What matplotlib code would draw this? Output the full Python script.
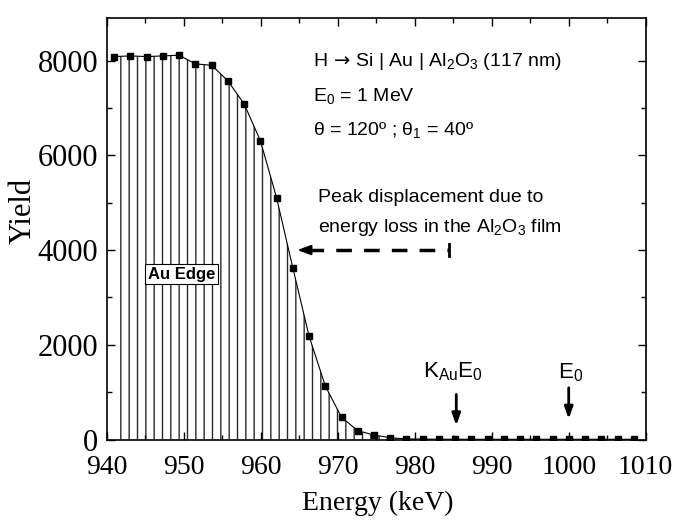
import numpy as np
import matplotlib
matplotlib.use("Agg")
import matplotlib.pyplot as plt

# ---- data ----
energy = [940.98, 943.09, 945.20, 947.30, 949.41, 951.52, 953.63, 955.74,
          957.85, 959.96, 962.06, 964.17, 966.28, 968.39, 970.50, 972.61,
          974.71, 976.82, 978.93, 981.04, 983.15, 985.26, 987.37, 989.48,
          991.58, 993.69, 995.80, 997.91, 1000.02, 1002.13, 1004.24,
          1006.34, 1008.45]
yield_ = [8085, 8099, 8085, 8099, 8114, 7930, 7902, 7571,
          7085, 6310, 5107, 3628, 2186, 1130, 469, 186,
          95, 38, 12, 10, 6, 6, 5, 5,
          5, 5, 5, 5, 5, 5, 5,
          5, 5]
xticks = [940, 950, 960, 970, 980, 990, 1000, 1010]
yticks = [0, 2000, 4000, 6000, 8000]
kau_e0 = 985.4
e0 = 1000.0

serif = ['Liberation Serif', 'DejaVu Serif']
sans = ['Liberation Sans', 'DejaVu Sans']
plt.rcParams['mathtext.default'] = 'regular'
plt.rcParams['mathtext.fontset'] = 'dejavusans'
plt.rcParams['hatch.linewidth'] = 1.0

fig = plt.figure(figsize=(6.76, 5.21), dpi=100)
ax = fig.add_axes([0.1578, 0.1564, 0.9552 - 0.1578, 0.9655 - 0.1564])

ax.fill_between(energy, yield_, 0, facecolor='none', edgecolor='#2a2a2a',
                hatch='||', linewidth=0)
ax.plot(energy, yield_, color='black', lw=0.8, marker='s', ms=5,
        mfc='black', mec='black')

ax.set_xlim(940, 1010)
ax.set_ylim(0, 8900)
ax.set_xticks(xticks)
ax.set_yticks(yticks)
ax.set_xticks(np.arange(945, 1010, 10), minor=True)
ax.set_yticks(np.arange(1000, 8900, 2000), minor=True)
ax.tick_params(which='both', direction='in', top=True, right=True, width=1.0)
ax.tick_params(which='major', length=6)
ax.tick_params(which='minor', length=3.6)
ax.tick_params(axis='x', pad=11)
ax.tick_params(axis='y', pad=6)
for lab in ax.get_xticklabels():
    lab.set_family(serif); lab.set_fontsize(20)
for lab in ax.get_yticklabels():
    lab.set_family(serif); lab.set_fontsize(22)
for sp in ax.spines.values():
    sp.set_linewidth(1.2)

fig.text(23 / 676, 1 - 211 / 521, 'Yield', rotation=90, ha='center', va='center',
         family=serif, fontsize=22)
fig.text(378 / 676, 1 - 503 / 521, 'Energy (keV)', ha='center', va='center',
         family=serif, fontsize=20)

# info text
ax.text(313 / 676, 1 - 62 / 521, r'H $\!\mathrm{\rightarrow}\!$ Si | Au | Al$_2$O$_3$ (117 nm)',
        transform=fig.transFigure, ha='left', va='center', family=sans, fontsize=14)
ax.text(313 / 676, 1 - 96 / 521, r'E$_0$ = 1 MeV',
        transform=fig.transFigure, ha='left', va='center', family=sans, fontsize=14)
ax.text(313 / 676, 1 - 130 / 521, r'$\theta$ = 120º ; $\theta_1$ = 40º',
        transform=fig.transFigure, ha='left', va='center', family=sans, fontsize=14)

ax.text(318 / 676, 1 - 198 / 521, 'Peak displacement due to',
        transform=fig.transFigure, ha='left', va='center', family=sans, fontsize=14)
ax.text(318 / 676, 1 - 228 / 521, r'energy loss in the Al$_2$O$_3$ film',
        transform=fig.transFigure, ha='left', va='center', family=sans, fontsize=14)

# dashed arrow
ax.plot([966.2, 984.4], [4000, 4000], color='black', lw=2.5,
        dashes=(4.5, 3.5))
ax.plot([984.4, 984.4], [3870, 4130], color='black', lw=2.0)
ax.annotate('', xy=(964.4, 4000), xytext=(966.6, 4000),
            arrowprops=dict(arrowstyle='-|>,head_length=0.8,head_width=0.3',
                            color='black', lw=1.5))

# Au Edge box
ax.text(949.7, 3485, 'Au Edge', ha='center', va='center', family=sans,
        fontsize=12, fontweight='bold',
        bbox=dict(boxstyle='square,pad=0.15', facecolor='white',
                  edgecolor='black', lw=0.8))

# vertical arrows
ax.annotate('', xy=(kau_e0, 237), xytext=(kau_e0, 1010),
            arrowprops=dict(arrowstyle='-|>,head_length=0.7,head_width=0.25',
                            color='black', lw=2))
ax.annotate('', xy=(e0, 376), xytext=(e0, 1151),
            arrowprops=dict(arrowstyle='-|>,head_length=0.7,head_width=0.25',
                            color='black', lw=2))
ax.text(kau_e0 - 0.5, 1320, r'K$_{Au}$E$_0$', ha='center', va='baseline',
        family=sans, fontsize=16)
ax.text(e0 + 0.3, 1300, r'E$_0$', ha='center', va='baseline',
        family=sans, fontsize=16)

fig.savefig('out.png', dpi=100)
